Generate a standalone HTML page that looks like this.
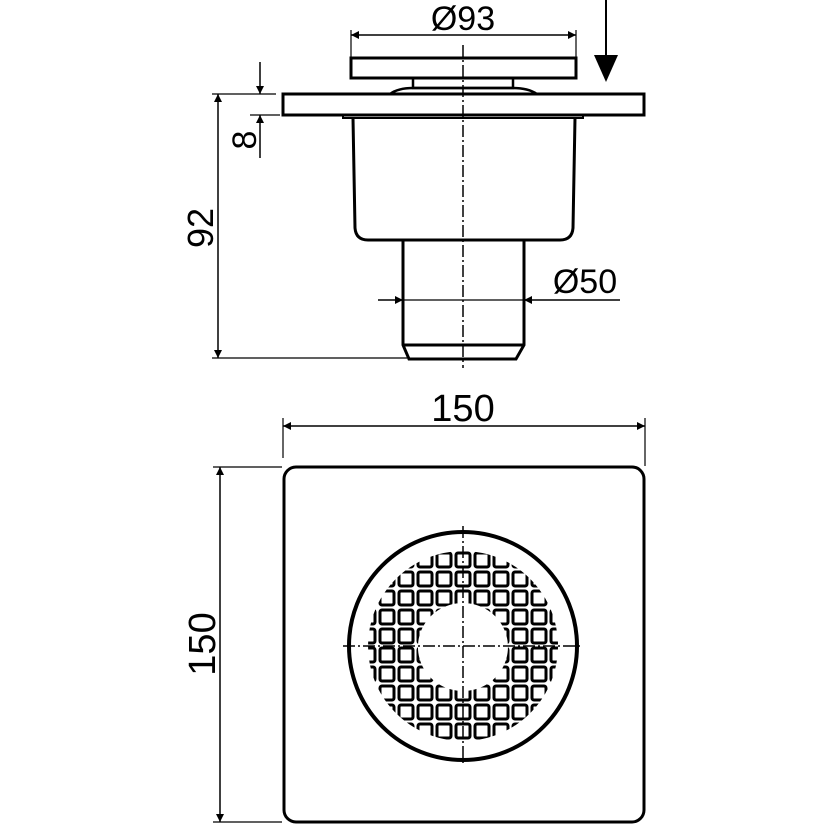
<!DOCTYPE html>
<html><head><style>html,body{margin:0;padding:0;background:#fff}svg{display:block}</style></head>
<body>
<svg width="830" height="830" viewBox="0 0 830 830" xmlns="http://www.w3.org/2000/svg" font-family="Liberation Sans, sans-serif">
<defs>
<marker id="a" viewBox="0 0 10 10" refX="10" refY="5" markerWidth="14" markerHeight="8" markerUnits="userSpaceOnUse" orient="auto-start-reverse"><path d="M0,0L10,5L0,10z" fill="#000"/></marker>
<clipPath id="ring"><path clip-rule="evenodd" d="M463,551a95,95 0 1,0 0.1,0zM463,603a45,44 0 1,1 -0.1,0z"/></clipPath>
<g id="row">
<rect x="361" y="0" width="14" height="14" rx="2"/><rect x="380" y="0" width="14" height="14" rx="2"/><rect x="399" y="0" width="14" height="14" rx="2"/><rect x="418" y="0" width="14" height="14" rx="2"/><rect x="437" y="0" width="14" height="14" rx="2"/><rect x="456" y="0" width="14" height="14" rx="2"/><rect x="475" y="0" width="14" height="14" rx="2"/><rect x="494" y="0" width="14" height="14" rx="2"/><rect x="513" y="0" width="14" height="14" rx="2"/><rect x="532" y="0" width="14" height="14" rx="2"/><rect x="551" y="0" width="14" height="14" rx="2"/>
</g>
</defs>
<g fill="none" stroke="#000">
<rect x="351" y="58" width="225" height="20" stroke-width="3"/>
<rect x="413" y="78" width="100" height="10" stroke-width="2.5"/>
<path d="M390,94 Q398,88 413,88 H513 Q528,88 537,94" stroke-width="2.5"/>
<rect x="283" y="94" width="361" height="21" stroke-width="3"/>
<path d="M343,115 v3 h240 v-3" stroke-width="2"/>
<path d="M353,118 L355,228 Q356,240 368,240 H560 Q572,240 573,228 L575,118" stroke-width="3"/>
<path d="M403,240 V345 L409,359 H516 L524,345 V240 M403,345 H524" stroke-width="3"/>
<line x1="463" y1="45" x2="463" y2="368" stroke-width="1.5" stroke-dasharray="12,3,2,3"/>
<line x1="351" y1="35" x2="576" y2="35" stroke-width="1.5" marker-start="url(#a)" marker-end="url(#a)"/>
<line x1="351" y1="30" x2="351" y2="58" stroke-width="1.2"/>
<line x1="576" y1="30" x2="576" y2="58" stroke-width="1.2"/>
<line x1="378" y1="300" x2="403" y2="300" stroke-width="1.5" marker-end="url(#a)"/>
<line x1="620" y1="300" x2="524" y2="300" stroke-width="1.5" marker-end="url(#a)"/>
<line x1="403" y1="300" x2="524" y2="300" stroke-width="1.2"/>
<line x1="260" y1="62" x2="260" y2="94" stroke-width="1.5" marker-end="url(#a)"/>
<line x1="260" y1="158" x2="260" y2="115" stroke-width="1.5" marker-end="url(#a)"/>
<line x1="212" y1="94" x2="276" y2="94" stroke-width="1.2"/>
<line x1="250" y1="115" x2="280" y2="115" stroke-width="1.2"/>
<line x1="218" y1="94" x2="218" y2="358" stroke-width="1.5" marker-start="url(#a)" marker-end="url(#a)"/>
<line x1="212" y1="358" x2="407" y2="358" stroke-width="1.2"/>
<line x1="606" y1="0" x2="606" y2="60" stroke-width="2"/>
<line x1="283" y1="426" x2="645" y2="426" stroke-width="1.5" marker-start="url(#a)" marker-end="url(#a)"/>
<line x1="283" y1="418" x2="283" y2="458" stroke-width="1.2"/>
<line x1="645" y1="418" x2="645" y2="466" stroke-width="1.2"/>
<rect x="284" y="467" width="360" height="355" rx="12" stroke-width="3"/>
<line x1="220" y1="467" x2="220" y2="822" stroke-width="1.5" marker-start="url(#a)" marker-end="url(#a)"/>
<line x1="213" y1="467" x2="282" y2="467" stroke-width="1.2"/>
<line x1="213" y1="822" x2="282" y2="822" stroke-width="1.2"/>
<circle cx="463" cy="646" r="114" stroke-width="4"/>
</g>
<g clip-path="url(#ring)" fill="none" stroke="#000" stroke-width="3">
<use href="#row" y="534"/><use href="#row" y="553"/><use href="#row" y="572"/><use href="#row" y="591"/><use href="#row" y="610"/><use href="#row" y="629"/><use href="#row" y="648"/><use href="#row" y="667"/><use href="#row" y="686"/><use href="#row" y="705"/><use href="#row" y="724"/><use href="#row" y="743"/>
</g>
<g stroke="#000" stroke-width="1.5" stroke-dasharray="12,3,2,3">
<line x1="463" y1="526" x2="463" y2="766"/><line x1="343" y1="646" x2="583" y2="646"/>
</g>
<path d="M594,55 L618,55 L606,82z" fill="#000"/>
<g font-size="34" fill="#000">
<text x="463" y="30" text-anchor="middle">Ø93</text>
<text x="585" y="293" text-anchor="middle">Ø50</text>
<text x="463" y="421" text-anchor="middle" font-size="38">150</text>
<text transform="translate(256,140) rotate(-90)" text-anchor="middle">8</text>
<text transform="translate(213,228) rotate(-90)" text-anchor="middle" font-size="36">92</text>
<text transform="translate(215,644) rotate(-90)" text-anchor="middle" font-size="38">150</text>
</g>
</svg>
</body></html>
